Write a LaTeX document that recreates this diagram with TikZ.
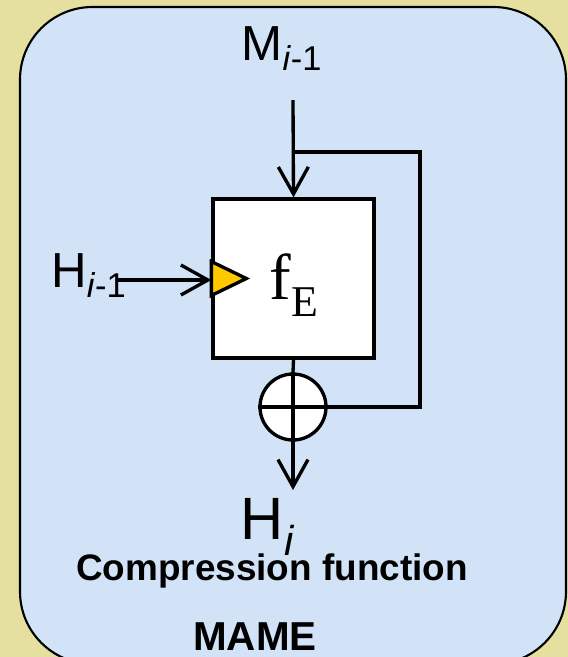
\documentclass[tikz,border=0pt]{standalone}
\usepackage{fontspec}
\setmainfont{Liberation Serif}
\setsansfont{Liberation Sans}
\usepackage{xcolor}
\usepackage{tikz}
\usetikzlibrary{arrows.meta, calc}

\definecolor{khaki}{RGB}{229,224,160}
\definecolor{paleblue}{RGB}{210,227,247}
\definecolor{tipyellow}{RGB}{255,200,0}

\begin{document}
\begin{tikzpicture}[
        x=0.02cm, y=-0.02cm,
        line width=1.9pt,
        % Define styles for the blocks, labels and arrows
        block/.style={draw, rectangle, fill=white, minimum width=3.22cm, minimum height=3.18cm, inner sep=0pt},
        xorsign/.style={draw, circle, fill=white, minimum size=1.32cm, inner sep=0pt},
        sig/.style={font=\sffamily\fontsize{28}{28}\selectfont, inner sep=0pt},
        caption/.style={font=\sffamily\bfseries\fontsize{21}{21}\selectfont, inner sep=0pt},
        arr/.style={-{Straight Barb[length=0.54cm, width=0.6cm]}}
    ]

    % Background and rounded panel
    \fill[khaki] (0,0) rectangle (568,657);
    \useasboundingbox (0,0) rectangle (568,657);
    \draw[line width=1.2pt, fill=paleblue, rounded corners=1.45cm] (20,7) rectangle (566,664);

    % Draw the compression block and the xor
    \node[block] (fE) at (293.5,278.5) {};
    \node[font=\fontsize{37}{37}\selectfont, inner sep=0pt] (fname) at (294,285)
        {f\raisebox{-0.25em}{\fontsize{25}{25}\selectfont E}};
    \node[xorsign] (xor) at (293,407) {};

    % Draw the labels
    \node[sig] (mlabel) at (282,49) {M\textsubscript{\textit{i}-1}};
    \node[sig] (hinlabel) at (89,276) {H\textsubscript{\textit{i}-1}};
    \node[sig, font=\sffamily\fontsize{34}{34}\selectfont] (houtlabel) at (268,527) {H\textsubscript{\textit{i}}};
    \node[caption] (cap1) at (272,571) {Compression function};
    \node[caption, font=\sffamily\bfseries\fontsize{23}{23}\selectfont] (cap2) at (255,637) {MAME};

    % Free ends of the connectors
    \coordinate (min) at (293,100);
    \coordinate (hin) at (118,280);
    \coordinate (hout) at (293,490);
    \coordinate (loopr) at (420,152);

    % Draw the connecting lines
    \draw[arr] (min) -- (fE.north);
    \draw (xor.east) -| (loopr) -- (loopr -| fE.north);
    \draw[arr] (hin) -- (hin -| fE.west);
    \draw[fill=tipyellow] ($(fE.west)+(0,-17)$) -- ++(35,17) -- ++(-35,17) -- cycle;
    \draw (fE.south) -- (xor.north);
    \draw (xor.north) -- (xor.south);
    \draw (xor.west) -- (xor.east);
    \draw[arr] (xor.south) -- (hout);

\end{tikzpicture}
\end{document}
